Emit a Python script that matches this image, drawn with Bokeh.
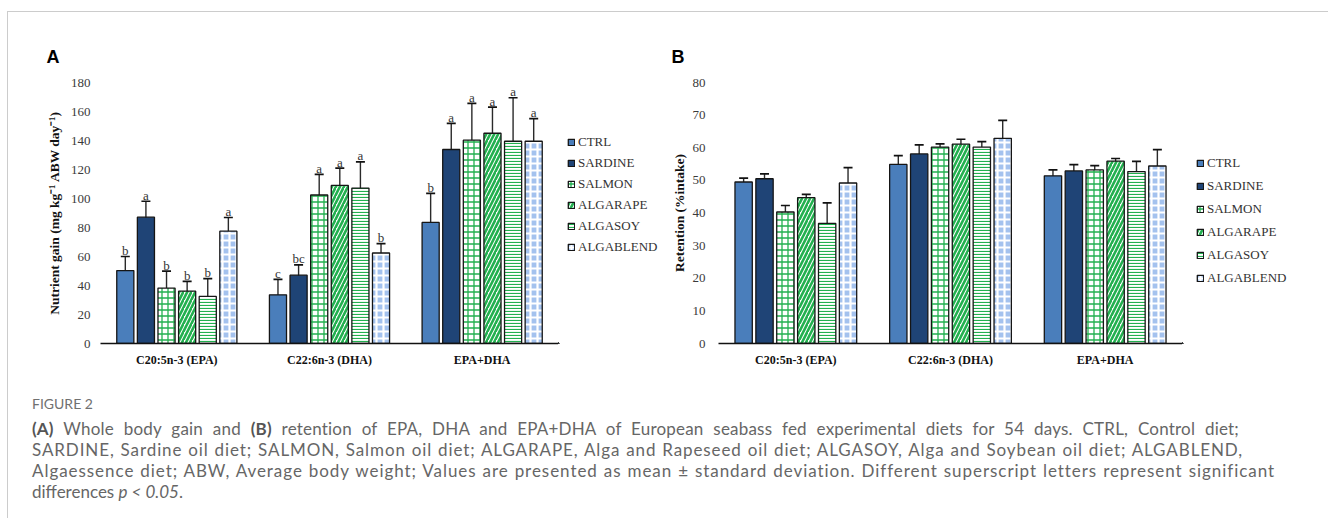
from bokeh.plotting import figure
from bokeh.models import (ColumnDataSource, FactorRange, Range1d, Whisker, TeeHead,
                          Legend, LegendItem, Div)
from bokeh.transform import dodge
from bokeh.layouts import column, row
from bokeh.embed import file_html
from bokeh.resources import INLINE
from bokeh.core.properties import value

# ---------------- data ----------------
groups = ["C20:5n-3 (EPA)", "C22:6n-3 (DHA)", "EPA+DHA"]
diets = ["CTRL", "SARDINE", "SALMON", "ALGARAPE", "ALGASOY", "ALGABLEND"]

# Panel A: nutrient gain (mg kg-1 ABW day-1), mean / sd / letters
gain_ctrl = [50.3, 33.6, 83.5]
gain_sardine = [87.1, 47.1, 133.8]
gain_salmon = [38.2, 102.4, 140.2]
gain_algarape = [36.1, 109.0, 145.0]
gain_algasoy = [32.5, 107.2, 139.5]
gain_algablend = [77.5, 62.4, 139.5]

gain_sd_ctrl = [9.7, 10.6, 20.0]
gain_sd_sardine = [11.0, 7.1, 18.0]
gain_sd_salmon = [11.7, 14.2, 25.4]
gain_sd_algarape = [6.7, 12.0, 18.0]
gain_sd_algasoy = [12.2, 18.0, 30.0]
gain_sd_algablend = [9.4, 6.5, 15.6]

gain_let_ctrl = ["b", "c", "b"]
gain_let_sardine = ["a", "bc", "a"]
gain_let_salmon = ["b", "a", "a"]
gain_let_algarape = ["b", "a", "a"]
gain_let_algasoy = ["b", "a", "a"]
gain_let_algablend = ["a", "b", "a"]

# Panel B: retention (% intake), mean / sd
ret_ctrl = [49.5, 54.9, 51.4]
ret_sardine = [50.5, 58.1, 52.9]
ret_salmon = [40.3, 60.2, 53.2]
ret_algarape = [44.7, 61.1, 55.9]
ret_algasoy = [36.8, 60.2, 52.7]
ret_algablend = [49.2, 62.9, 54.4]

ret_sd_ctrl = [1.2, 2.7, 1.8]
ret_sd_sardine = [1.5, 2.8, 1.9]
ret_sd_salmon = [2.0, 1.0, 1.3]
ret_sd_algarape = [1.0, 1.5, 0.8]
ret_sd_algasoy = [6.3, 1.7, 3.1]
ret_sd_algablend = [4.7, 5.5, 5.0]

gain_means = [gain_ctrl, gain_sardine, gain_salmon, gain_algarape, gain_algasoy, gain_algablend]
gain_sds = [gain_sd_ctrl, gain_sd_sardine, gain_sd_salmon, gain_sd_algarape, gain_sd_algasoy, gain_sd_algablend]
gain_lets = [gain_let_ctrl, gain_let_sardine, gain_let_salmon, gain_let_algarape, gain_let_algasoy, gain_let_algablend]
ret_means = [ret_ctrl, ret_sardine, ret_salmon, ret_algarape, ret_algasoy, ret_algablend]
ret_sds = [ret_sd_ctrl, ret_sd_sardine, ret_sd_salmon, ret_sd_algarape, ret_sd_algasoy, ret_sd_algablend]

# ---------------- styles ----------------
SERIF = "Liberation Serif"
GREEN = "#22B04F"
H = 366

bar_styles = [
    dict(fill_color="#4A7EBB"),
    dict(fill_color="#1F4476"),
    dict(fill_color="white", hatch_pattern="+", hatch_color=GREEN, hatch_scale=6, hatch_weight=1.3),
    dict(fill_color="white", hatch_pattern="/", hatch_color=GREEN, hatch_scale=8, hatch_weight=2.6),
    dict(fill_color="white", hatch_pattern="-", hatch_color=GREEN, hatch_scale=3, hatch_weight=1.2),
    dict(fill_color="#A4C2EE", hatch_pattern="+", hatch_color="white", hatch_scale=7, hatch_weight=2.2),
]
BAR_LINE = dict(line_color="#151515", line_width=1.3)

STEP = 0.135
WIDTH = 0.112


def make_panel(means, sds, lets, ymax, yticks, ytitle, width, bl, bt, bb, panel_letter, letter_offset):
    p = figure(x_range=FactorRange(*groups, range_padding=0), y_range=Range1d(0, ymax),
               width=width, height=H, output_backend="svg", toolbar_location=None,
               min_border_left=bl, min_border_right=0, min_border_top=bt, min_border_bottom=bb)
    p.outline_line_color = None
    p.grid.grid_line_color = None
    p.background_fill_color = "white"
    p.border_fill_color = "white"

    sources = []
    for i, d in enumerate(diets):
        off = (i - 2.5) * STEP
        m = means[i]
        s = sds[i]
        data = dict(group=groups, mean=m,
                    upper=[a + b for a, b in zip(m, s)],
                    lower=[a - b for a, b in zip(m, s)])
        if lets is not None:
            data["letter"] = lets[i]
        src = ColumnDataSource(data)
        sources.append(src)
        p.vbar(x=dodge("group", off, range=p.x_range), top="mean", width=WIDTH, bottom=0,
               source=src, **BAR_LINE, **bar_styles[i])
        w = Whisker(source=src, base=dodge("group", off, range=p.x_range), upper="upper", lower="lower",
                    line_color="#2a2a2a", line_width=1.4,
                    upper_head=TeeHead(size=9, line_color="#111111", line_width=1.7),
                    lower_head=TeeHead(size=9, line_color="#111111", line_width=1.7))
        p.add_layout(w)
        if lets is not None:
            p.text(x=dodge("group", off, range=p.x_range), y="upper", text="letter", source=src,
                   text_align="center", text_baseline="alphabetic", y_offset=-6,
                   text_font=value(SERIF), text_font_size="13px", text_color="#333333")

    # panel letter as title
    p.title.text = panel_letter
    p.title.align = "left"
    p.title.offset = letter_offset[0]
    p.title.standoff = letter_offset[1]
    p.title.text_font = "Liberation Sans"
    p.title.text_font_size = "18px"
    p.title.text_font_style = "bold"
    p.title.text_color = "black"

    # axes
    p.yaxis.ticker = yticks
    p.yaxis.axis_line_color = None
    p.yaxis.major_tick_line_color = None
    p.yaxis.minor_tick_line_color = None
    p.yaxis.major_tick_out = 0
    p.yaxis.major_tick_in = 0
    p.yaxis.minor_tick_out = 0
    p.yaxis.major_label_text_font = SERIF
    p.yaxis.major_label_text_font_size = "13px"
    p.yaxis.major_label_text_color = "#3a3a3a"
    p.yaxis.axis_label = ytitle
    p.yaxis.axis_label_text_font = SERIF
    p.yaxis.axis_label_text_font_size = "13.5px"
    p.yaxis.axis_label_text_font_style = "bold"
    p.yaxis.axis_label_text_color = "#111111"

    p.xaxis.axis_line_color = "#111111"
    p.xaxis.axis_line_width = 1.3
    p.xaxis.major_tick_line_color = None
    p.xaxis.minor_tick_line_color = None
    p.xaxis.major_tick_out = 0
    p.xaxis.major_tick_in = 0
    p.xaxis.minor_tick_out = 0
    p.xaxis.major_label_text_font = SERIF
    p.xaxis.major_label_text_font_size = "12px"
    p.xaxis.major_label_text_font_style = "bold"
    p.xaxis.major_label_text_color = "#111111"
    p.xaxis.major_label_standoff = 9
    return p, sources


def make_legend(width, loc, spacing, sources):
    # legend-only figure: the proxy bars reuse the panel's data but lie far outside this frame
    # (down-left, where any clipped remainder coincides with the end of the panel's x-axis line)
    q = figure(width=width, height=H, output_backend="svg", toolbar_location=None,
               x_range=FactorRange(*groups), y_range=Range1d(5000, 5001),
               x_axis_location=None, y_axis_location=None,
               min_border_left=0, min_border_right=0, min_border_top=0, min_border_bottom=0)
    q.outline_line_color = None
    q.grid.grid_line_color = None
    items = []
    for i, d in enumerate(diets):
        r = q.vbar(x=dodge("group", -50, range=q.x_range), top="mean", bottom=0, width=0.1,
                   source=sources[i], **BAR_LINE, **bar_styles[i])
        items.append(LegendItem(label=d, renderers=[r]))
    legend = Legend(items=items, location=loc, orientation="vertical",
                    glyph_width=8, glyph_height=8, label_height=16, spacing=spacing,
                    label_standoff=3, padding=0, margin=0,
                    label_text_font=SERIF, label_text_font_size="13px", label_text_color="#333333",
                    background_fill_alpha=0, border_line_color=None)
    q.add_layout(legend)
    return q


pA, srcA = make_panel(gain_means, gain_sds, gain_lets, 180, list(range(0, 181, 20)),
                      "Nutrient gain (mg kg\u207b\u00b9 ABW day\u207b\u00b9)",
                      550, 92, 70, 35, "A", (-54, 32))
pA.yaxis.major_label_standoff = 10
pA.yaxis.axis_label_standoff = 6
legA = make_legend(106, (9, 88), 5, srcA)

pB, srcB = make_panel(ret_means, ret_sds, None, 80, list(range(0, 81, 10)),
                      "Retention (%intake)",
                      518, 54, 67, 35, "B", (-47, 32))
pB.yaxis.major_label_standoff = 13
pB.yaxis.axis_label_standoff = 3
legB = make_legend(146, (14, 57), 7, srcB)


def cap_line(html, w, ls):
    return ('<div style="width:%dpx; white-space:nowrap; text-align:justify; text-align-last:justify; '
            'letter-spacing:%spx;">%s</div>' % (w, ls, html))


caption_html = (
    '<div style="font-family:Lato, \'Open Sans\', sans-serif; color:#666666; font-size:17px; '
    'line-height:21px; padding-left:19px;">'
    '<div style="font-size:14px; color:#707070; margin-top:10px; margin-bottom:4px;">FIGURE 2</div>'
    + cap_line('<b style="color:#555">(A)</b> Whole body gain and <b style="color:#555">(B)</b> retention of EPA, DHA and '
               'EPA+DHA of European seabass fed experimental diets for 54 days. CTRL, Control diet;', 1207, 0.2)
    + cap_line('SARDINE, Sardine oil diet; SALMON, Salmon oil diet; ALGARAPE, Alga and Rapeseed oil diet; '
               'ALGASOY, Alga and Soybean oil diet; ALGABLEND,', 1211, 0.9)
    + cap_line('Algaessence diet; ABW, Average body weight; Values are presented as mean \u00b1 standard '
               'deviation. Different superscript letters represent significant', 1243, 0.95)
    + '<div>differences <i>p &lt; 0.05</i>.</div>'
    '</div>'
)
caption = Div(text=caption_html, width=1320, height=130)

layout = column(row(pA, legA, pB, legB), caption,
                styles={"border-left": "1px solid #cccccc", "border-top": "1px solid #cccccc",
                        "margin-top": "11px", "margin-left": "7px"})

open("out.html", "w").write(file_html(layout, INLINE))
